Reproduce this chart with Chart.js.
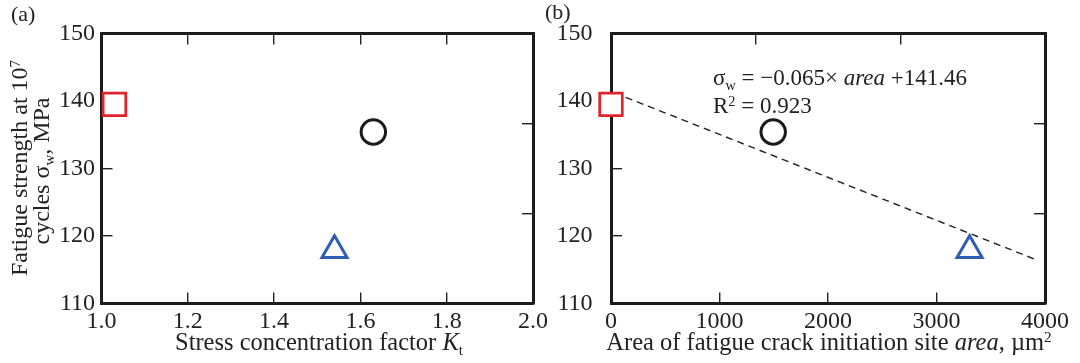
<!DOCTYPE html>
<html>
<head>
<meta charset="utf-8">
<script src="https://cdn.jsdelivr.net/npm/chart.js@4.4.1/dist/chart.umd.min.js"></script>
<style>
  html, body { margin: 0; padding: 0; background: #fff; }
  #wrap { position: relative; width: 1080px; height: 363px; overflow: hidden;
          font-family: "Liberation Serif", "Times New Roman", serif; color: #222; }
  #wrap canvas { position: absolute; left: 0; top: 0; }
  .txt { position: absolute; white-space: nowrap; font-size: 24.5px; line-height: 24px; }
  .note { position: absolute; white-space: nowrap; font-size: 23px; line-height: 23px; }
  .tag { position: absolute; white-space: nowrap; font-size: 22px; line-height: 22px; }
  .ylab { position: absolute; width: 300px; height: 24px; text-align: center; font-size: 24px;
          transform: rotate(-90deg); }
  sub { font-size: 0.62em; vertical-align: -0.35em; line-height: 0; }
  sup { font-size: 0.62em; vertical-align: 0.5em; line-height: 0; }
</style>
</head>
<body>
<div id="wrap">
  <canvas id="chartA" width="1080" height="363"></canvas>
  <canvas id="chartB" width="1080" height="363"></canvas>

  <div class="tag" style="left:11px; top:3px;">(a)</div>
  <div class="tag" style="left:545px; top:1px;">(b)</div>

  <div class="txt ylab" style="left:-131px; top:156px;">Fatigue strength at 10<sup>7</sup></div>
  <div class="txt ylab" style="left:-109px; top:159px;">cycles σ<sub>w</sub>, MPa</div>

  <div class="txt" style="left:119px; top:330px; width:400px; text-align:center;">Stress concentration factor <i>K</i><sub>t</sub></div>
  <div class="txt" style="left:529px; top:330px; width:600px; text-align:center;">Area of fatigue crack initiation site <i>area</i>, µm<sup>2</sup></div>

  <div class="note" style="left:713px; top:66px;">σ<sub>w</sub> = −0.065× <i>area</i> +141.46</div>
  <div class="note" style="left:713px; top:94px;">R<sup>2</sup> = 0.923</div>
</div>

<script>
// values (one entry per specimen: square, circle, triangle)
var ktValues = [1.03, 1.63, 1.54];
var areaValues = [0, 1495, 3305];
var strengthValues = [139.5, 135.4, 117.9];

// dashed regression line, end points as drawn
var fitArea = [135, 3940];
var fitStrength = [140.55, 116.35];

var ktTicks = [1.0, 1.2, 1.4, 1.6, 1.8, 2.0];
var areaTicks = [0, 1000, 2000, 3000, 4000];
var strengthTicks = [110, 120, 130, 140, 150];
// the right and top frame of panel (b) and the right frame of (a) are cut in thirds
var strengthThirds = [110 + 40 / 3, 110 + 80 / 3];
var areaThirds = [4000 / 3, 8000 / 3];

var FONT = '"Liberation Serif", "Times New Roman", serif';
var INK = '#222';
var PLOT_TOP = 33.5, PLOT_BOTTOM = 303.5;

var markers = [
  { pointStyle: 'rect', radius: 16, color: '#e3232c', width: 2.7, fill: '#ffffff' },
  { pointStyle: 'circle', radius: 12.2, color: '#1a1a1a', width: 3, fill: 'rgba(0,0,0,0)' },
  { pointStyle: 'triangle', radius: 14.5, color: '#2f5db3', width: 3, fill: 'rgba(0,0,0,0)' }
];

function setTicks(values) {
  return function (scale) {
    scale.ticks = values.map(function (v) { return { value: v }; });
  };
}

// fixed box sizes so the plot frame lands where it is in the figure
function fixBox(w, h) {
  return function (s) {
    if (w !== null) s.width = w;
    if (h !== null) s.height = h;
    s.paddingTop = s.paddingBottom = s.paddingLeft = s.paddingRight = 0;
  };
}

function grid() {
  return { drawOnChartArea: false, drawTicks: true, tickLength: -11, color: INK, lineWidth: 1.4 };
}

function border() {
  return { display: true, width: 3, color: '#1c1c1c' };
}

function buildScales(p) {
  return {
    x: {
      type: 'linear', position: 'bottom', min: p.xMin, max: p.xMax,
      afterBuildTicks: setTicks(p.xTicks),
      afterFit: fixBox(null, 363 - PLOT_BOTTOM),
      ticks: { color: INK, font: { family: FONT, size: 24 }, padding: 15, maxRotation: 0, autoSkip: false,
               callback: p.xFormat },
      grid: grid(), border: border()
    },
    x2: {
      type: 'linear', position: 'top', min: p.xMin, max: p.xMax,
      afterBuildTicks: setTicks(p.topTicks),
      afterFit: fixBox(null, 0),
      ticks: { display: false },
      grid: grid(), border: border()
    },
    y: {
      type: 'linear', position: 'left', min: 110, max: 150,
      afterBuildTicks: setTicks(strengthTicks),
      afterFit: fixBox(p.left, null),
      ticks: { color: INK, font: { family: FONT, size: 24 }, padding: p.yPad,
               callback: function (v) { return String(v); } },
      grid: grid(), border: border()
    },
    y2: {
      type: 'linear', position: 'right', min: 110, max: 150,
      afterBuildTicks: setTicks(strengthThirds),
      afterFit: fixBox(0, null),
      ticks: { display: false },
      grid: grid(), border: border()
    }
  };
}

function markerSets(xs) {
  return markers.map(function (m, i) {
    return {
      data: [{ x: xs[i], y: strengthValues[i] }],
      pointStyle: m.pointStyle,
      pointRadius: m.radius,
      pointHoverRadius: m.radius,
      pointBorderColor: m.color,
      pointBackgroundColor: m.fill,
      pointBorderWidth: m.width,
      clip: false
    };
  });
}

function makeChart(id, datasets, scales, right) {
  return new Chart(document.getElementById(id), {
    type: 'scatter',
    data: { datasets: datasets },
    options: {
      responsive: false,
      animation: false,
      devicePixelRatio: 1,
      layout: { padding: { left: 0, right: right, top: PLOT_TOP, bottom: 0 } },
      plugins: { legend: { display: false }, tooltip: { enabled: false } },
      scales: scales
    }
  });
}

// (a) strength against Kt
makeChart('chartA',
  markerSets(ktValues),
  buildScales({
    xMin: 1, xMax: 2, xTicks: ktTicks, topTicks: ktTicks,
    xFormat: function (v) { return Number(v).toFixed(1); },
    left: 101.5, yPad: 17.5
  }),
  1080 - 533);

// (b) strength against crack initiation area, with the fitted line
var fitLine = {
  data: fitArea.map(function (a, i) { return { x: a, y: fitStrength[i] }; }),
  showLine: true,
  borderColor: '#222',
  borderWidth: 1.4,
  borderDash: [7, 5],
  pointRadius: 0,
  fill: false
};
makeChart('chartB',
  markerSets(areaValues).concat([fitLine]),
  buildScales({
    xMin: 0, xMax: 4000, xTicks: areaTicks, topTicks: areaThirds,
    xFormat: function (v) { return String(v); },
    left: 611, yPad: 29.5
  }),
  1080 - 1045);
</script>
</body>
</html>
